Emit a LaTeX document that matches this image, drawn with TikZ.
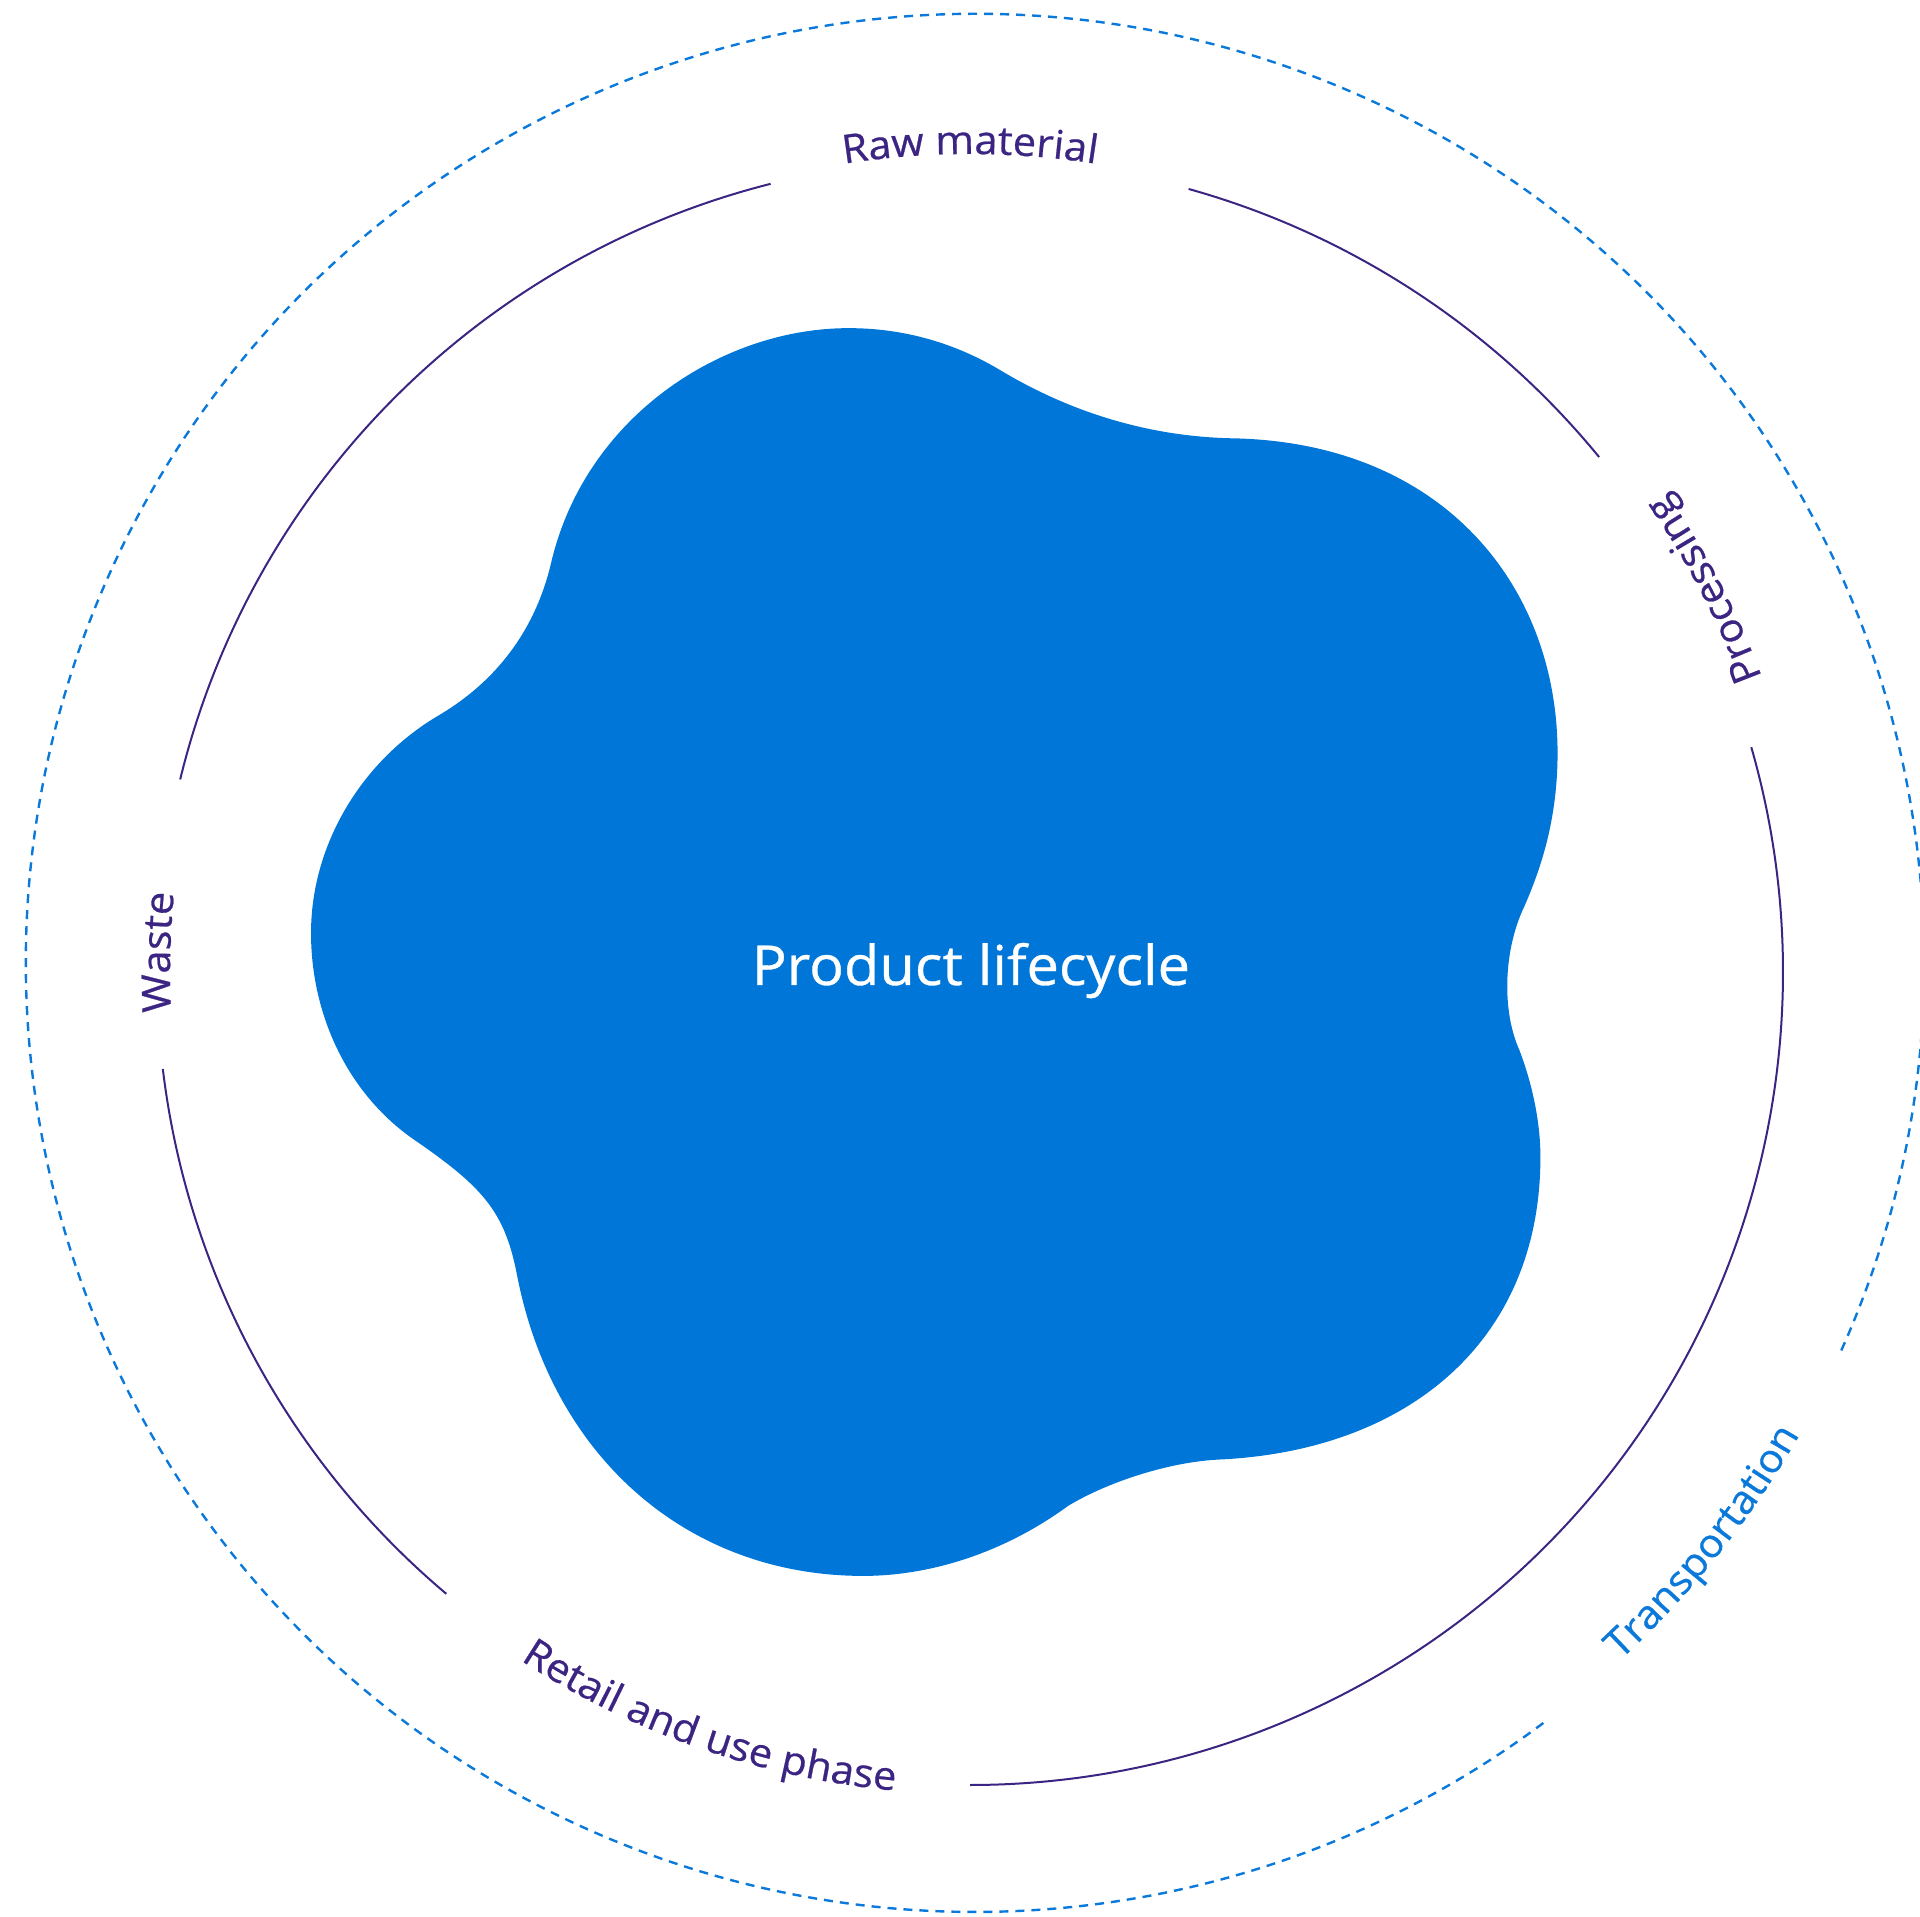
\documentclass[tikz,border=0pt]{standalone}
\usepackage{fontspec}
\setmainfont{Open Sans}
\usetikzlibrary{decorations.text}
\definecolor{lcblob}{HTML}{0077D8}
\definecolor{lcpurple}{HTML}{3B2482}
\definecolor{lcdash}{HTML}{0A79DA}
\newfontfamily\lcfont[FakeStretch=1.05, FakeBold=0.6]{Open Sans}
\newcommand\lcLabel{\lcfont\fontsize{19.8}{24}\selectfont}
\newcommand\lcTitle{\lcfont\fontsize{27.5}{33}\selectfont}

\begin{document}
\begin{tikzpicture}[x=0.5pt,y=0.5pt,
  ring/.style={draw=lcpurple, line width=1pt},
  dashring/.style={draw=lcdash, line width=1.2pt, dash pattern=on 4.5pt off 3.5pt},
  arclabel/.style={decorate, decoration={text along path, text align=center, text color=#1}},
]
\useasboundingbox (0,0) rectangle (1920,1916);
\clip (0,0) rectangle (1920,1916);
\coordinate (O1) at (970,944);
\coordinate (O2) at (975,953);

% outer dashed ring, open where "Transportation" sits
\draw[dashring] (O2) ++(-24.1:949) arc[start angle=-24.1, end angle=307.2, radius=949];

% inner ring, split into four arcs around the stage labels
\draw[ring] (O1) ++(39.3:813) arc[start angle=39.3, end angle=74.4, radius=813];
\draw[ring] (O1) ++(104.2:813) arc[start angle=104.2, end angle=166.3, radius=813];
\draw[ring] (O1) ++(186.85:813) arc[start angle=186.85, end angle=229.9, radius=813];
\draw[ring] (O1) ++(-90:813) arc[start angle=-90, end angle=16.05, radius=813];

% central blob, five lobes joined by soft necks
\begin{scope}[shift={(0,1916)}, yscale=-1, scale=1.22449]
\fill[lcblob]
  (450,460) .. controls (478,340) and (590,268) .. (693,268)
  .. controls (738,268) and (780,280) .. (818,303)
  .. controls (880,340) and (945,357) .. (1008,358)
  .. controls (1180,362) and (1272,480) .. (1272,615)
  .. controls (1272,670) and (1258,710) .. (1245,740)
  .. controls (1228,775) and (1226,825) .. (1241,858)
  .. controls (1253,890) and (1258,920) .. (1258,945)
  .. controls (1258,1095) and (1150,1185) .. (995,1192)
  .. controls (955,1194) and (905,1210) .. (872,1230)
  .. controls (820,1268) and (760,1287) .. (705,1287)
  .. controls (560,1287) and (450,1188) .. (422,1040)
  .. controls (412,990) and (395,970) .. (340,932)
  .. controls (285,895) and (254,830) .. (254,762)
  .. controls (254,690) and (295,622) .. (357,585)
  .. controls (405,557) and (437,515) .. (450,460)
  -- cycle;
\end{scope}

\node[text=white, font=\lcTitle, inner sep=0pt, anchor=base] (title) at (971,931) {Product lifecycle};

% stage labels set along the rings
\path[arclabel=lcpurple, decoration={text={|\lcLabel|Raw material}}]
  (O1) ++(115:818) arc[start angle=115, end angle=65, radius=818];
\path[arclabel=lcpurple, decoration={text={|\lcLabel|Processing}}]
  (O1) ++(10:845) arc[start angle=10, end angle=45, radius=845];
\path[arclabel=lcpurple, decoration={text={|\lcLabel|Waste}}]
  (O1) ++(194:800) arc[start angle=194, end angle=163.2, radius=800];
\path[arclabel=lcpurple, decoration={text={|\lcLabel|Retail and use phase}}]
  (O1) ++(-134.2:822) arc[start angle=-134.2, end angle=-84.2, radius=822];
\path[arclabel=lcdash, decoration={text={|\lcLabel|Transportation}}]
  (O2) ++(-60:950) arc[start angle=-60, end angle=-17, radius=950];
\end{tikzpicture}
\end{document}
